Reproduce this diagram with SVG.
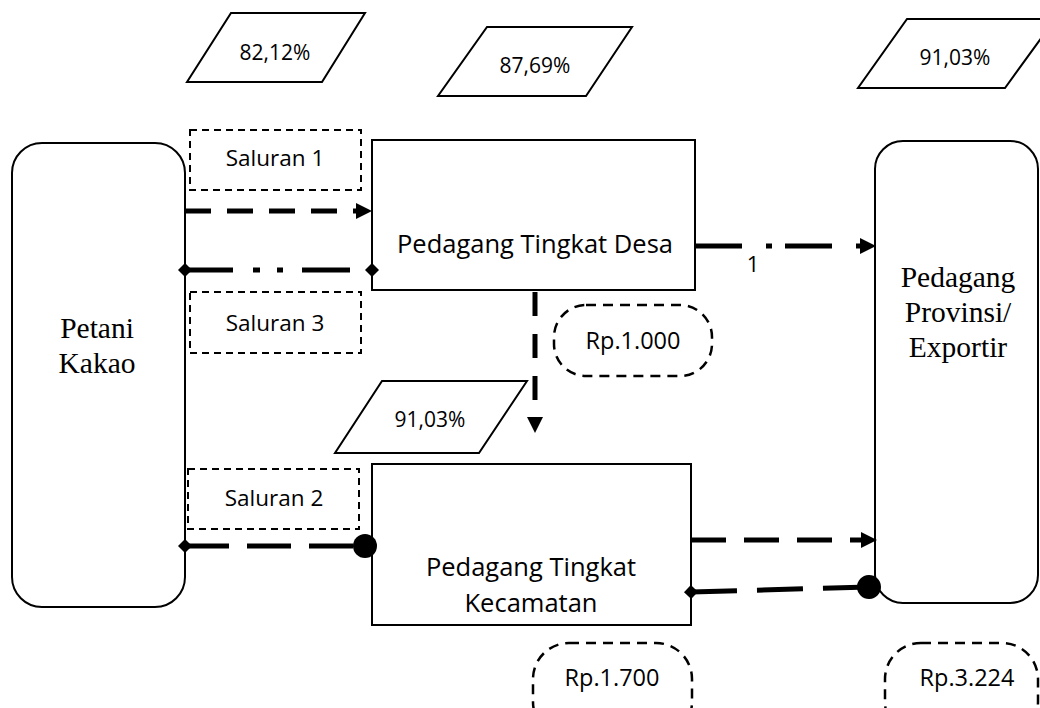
<svg xmlns="http://www.w3.org/2000/svg" width="1040" height="708" viewBox="0 0 1040 708">
<style>
.box{fill:#fff;stroke:#000;stroke-width:2}
.dbox{fill:#fff;stroke:#000;stroke-width:2;stroke-dasharray:7 5}
.rbox{fill:#fff;stroke:#000;stroke-width:2.5;stroke-dasharray:10 7}
.sans{font-family:"Open Sans","Noto Sans","Liberation Sans",sans-serif;fill:#000;text-anchor:middle}
.serif{font-family:"Liberation Serif","DejaVu Serif",serif;fill:#000;text-anchor:middle;font-size:29.5px}
.ln{fill:none;stroke:#000;stroke-width:5}
</style>
<defs>
<marker id="arr" markerUnits="userSpaceOnUse" markerWidth="16" markerHeight="16" refX="0" refY="8" orient="auto"><path d="M0,0 L16,8 L0,16 z" fill="#000"/></marker>
<marker id="dia" markerUnits="userSpaceOnUse" markerWidth="14" markerHeight="14" refX="7" refY="7" orient="auto"><path d="M0,7 L7,0 L14,7 L7,14 z" fill="#000"/></marker>
<marker id="dot" markerUnits="userSpaceOnUse" markerWidth="26" markerHeight="26" refX="13" refY="13" orient="auto"><circle cx="13" cy="13" r="12" fill="#000"/></marker>
</defs>
<rect width="1040" height="708" fill="#fff"/>

<g id="pct-82">
<polygon class="box" points="231,13 365,13 322,82 187,82"/>
<text class="sans" x="275" y="60" font-size="21">82,12%</text>
</g>
<g id="pct-87">
<polygon class="box" points="487,27 632,27 586,96 438,96"/>
<text class="sans" x="535" y="73" font-size="21">87,69%</text>
</g>
<g id="pct-91top">
<polygon class="box" points="907,19 1055,19 1005,88 858,88"/>
<text class="sans" x="955" y="65" font-size="21">91,03%</text>
</g>

<g id="petani">
<rect class="box" x="12" y="143" width="173" height="464" rx="30"/>
<text class="serif" x="97" y="338">Petani</text>
<text class="serif" x="97" y="373">Kakao</text>
</g>

<g id="provinsi">
<rect class="box" x="875" y="141" width="163" height="462" rx="28"/>
<text class="serif" x="958" y="287">Pedagang</text>
<text class="serif" x="958" y="322">Provinsi/</text>
<text class="serif" x="958" y="357">Exportir</text>
</g>

<g id="saluran1">
<rect class="dbox" x="190" y="130" width="171" height="60"/>
<text class="sans" x="275" y="166" font-size="22.5">Saluran 1</text>
</g>
<g id="saluran3">
<rect class="dbox" x="190" y="292" width="171" height="61"/>
<text class="sans" x="275" y="331" font-size="22.5">Saluran 3</text>
</g>
<g id="saluran2">
<rect class="dbox" x="188" y="469" width="171" height="60"/>
<text class="sans" x="274" y="506" font-size="22.5">Saluran 2</text>
</g>

<g id="desa">
<rect class="box" x="372" y="140" width="323" height="150"/>
<text class="sans" x="535" y="253" font-size="25.5">Pedagang Tingkat Desa</text>
</g>

<g id="kecamatan">
<rect class="box" x="372" y="464" width="319" height="161"/>
<text class="sans" x="531" y="576" font-size="25.5">Pedagang Tingkat</text>
<text class="sans" x="531" y="612" font-size="25.5">Kecamatan</text>
</g>

<g id="pct-91mid">
<polygon class="box" points="382,381 527,381 479,453 335,453"/>
<text class="sans" x="430" y="427" font-size="21">91,03%</text>
</g>

<g id="rp1000">
<rect class="rbox" x="554" y="305" width="158" height="71" rx="32"/>
<text class="sans" x="633" y="349" font-size="23.5">Rp.1.000</text>
</g>
<g id="rp1700">
<rect class="rbox" x="533" y="643" width="159" height="95" rx="36"/>
<text class="sans" x="612" y="686" font-size="23.5">Rp.1.700</text>
</g>
<g id="rp3224">
<rect class="rbox" x="885" y="643" width="153" height="95" rx="36"/>
<text class="sans" x="967" y="686" font-size="23.5">Rp.3.224</text>
</g>

<g id="connectors">
<path class="ln" d="M185,211 L356,211" stroke-dasharray="26 16" marker-end="url(#arr)"/>
<path class="ln" d="M185,270 L372,270" stroke-dasharray="48 20 7 17 6 19" marker-start="url(#dia)" marker-end="url(#dia)"/>
<path class="ln" d="M695,246 L860,246" stroke-dasharray="47 24 6 13" marker-end="url(#arr)"/>
<path class="ln" d="M535,292 L535,417" stroke-dasharray="24 18" marker-end="url(#arr)"/>
<path class="ln" d="M185,546 L365,546" stroke-dasharray="44 18" marker-start="url(#dia)" marker-end="url(#dot)"/>
<path class="ln" d="M691,540 L861,540" stroke-dasharray="35 18" marker-end="url(#arr)"/>
<path class="ln" d="M691,592 L869,587" stroke-dasharray="46 20" marker-start="url(#dia)" marker-end="url(#dot)"/>
<text class="sans" x="753" y="272" font-size="22">1</text>
</g>
</svg>
